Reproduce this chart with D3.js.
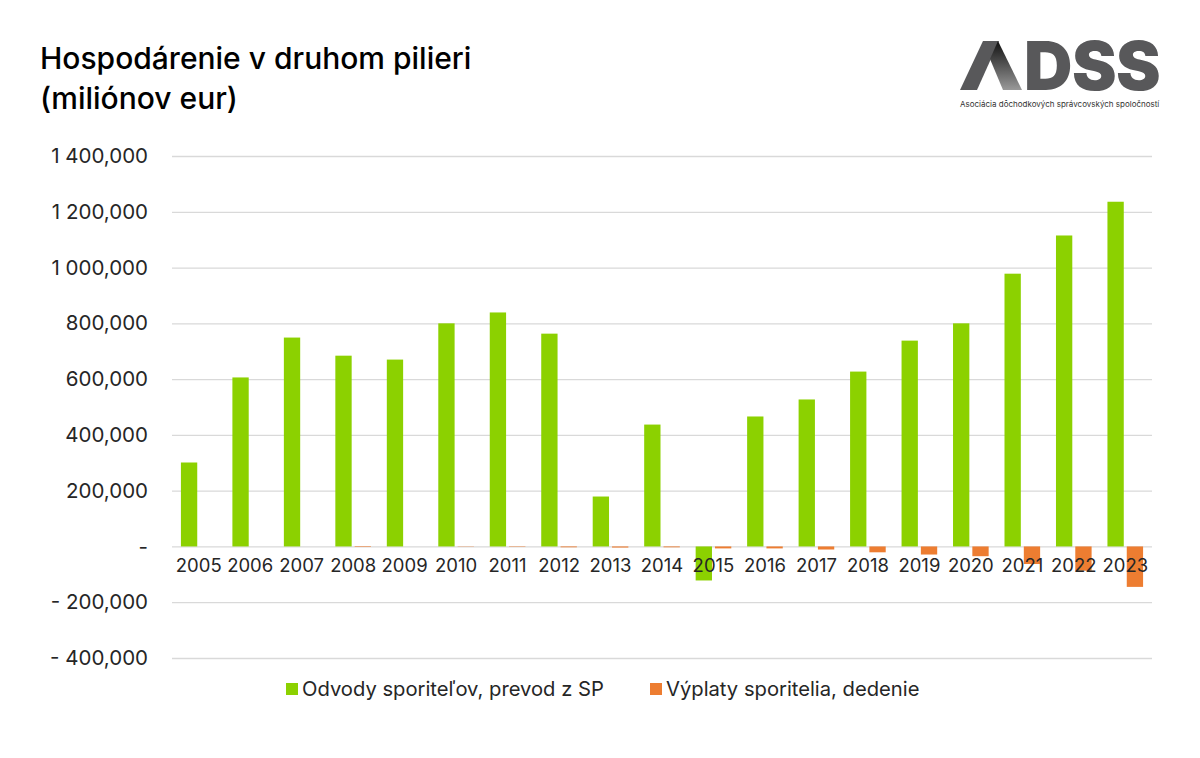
<!DOCTYPE html>
<html>
<head>
<meta charset="utf-8">
<script src="https://cdn.jsdelivr.net/npm/d3@7"></script>
<style>
  html, body { margin: 0; padding: 0; background: #fff; }
  text { font-family: "Inter", "Lato", sans-serif; }
</style>
</head>
<body>
<script>
'use strict';

// Data
var years = ["2005","2006","2007","2008","2009","2010","2011","2012","2013","2014","2015","2016","2017","2018","2019","2020","2021","2022","2023"];
var odvody = [301,606,749,684,670,800,839,763,179,437,-122,466,527,627,738,800,978,1115,1236];
var vyplaty = [0,0,0,-2,0,-1,-1.5,-3,-4,-3,-7,-7,-11,-21,-29,-35,-63,-87,-145];
var yTicks = [1400,1200,1000,800,600,400,200,0,-200,-400];
var seriesNames = ["Odvody sporiteľov, prevod z SP","Výplaty sporitelia, dedenie"];
var seriesColors = ["#8cd100","#ed7d31"];

var width = 1200, height = 758;
var left = 172, right = 1152, top0 = 156, bottom = 658;

var svg = d3.select("body").append("svg")
    .attr("width", width)
    .attr("height", height)
    .style("display", "block");

var x = d3.scaleBand().domain(years).range([left + 1, right - 1]);
var xInner = d3.scaleBand().domain([0, 1]).range([0, x.bandwidth()]).paddingInner(0.155).paddingOuter(0.41);
var y = d3.scaleLinear().domain([-400, 1400]).range([bottom, top0]);

function tickText(d) {
  if (d === 0) return "-";
  var a = Math.abs(d);
  var s = a >= 1000 ? Math.floor(a / 1000) + " " + d3.format("03d")(a % 1000) : String(a);
  return (d < 0 ? "- " : "") + s + ",000";
}

// Grid and y axis
var yAxis = svg.append("g")
    .attr("transform", "translate(" + left + ",0)")
    .call(d3.axisLeft(y).tickValues(yTicks).tickFormat(tickText).tickSize(0).tickPadding(24));
yAxis.select(".domain").remove();
yAxis.selectAll("text").attr("fill", "#262626").style("font-size", "20.5px");
yAxis.selectAll("line")
    .attr("x2", right - left)
    .attr("stroke", "#d9d9d9")
    .attr("stroke-width", 1.3);

// Bars
var series = [odvody, vyplaty];
series.forEach(function(vals, i) {
  svg.append("g").selectAll("rect")
      .data(vals)
      .enter()
      .append("rect")
      .attr("x", function(d, j) { return x(years[j]) + xInner(i); })
      .attr("width", xInner.bandwidth())
      .attr("y", function(d) { return y(Math.max(d, 0)); })
      .attr("height", function(d) { return Math.abs(y(d) - y(0)); })
      .attr("fill", seriesColors[i]);
});

// Year labels sit just under the zero line, over the bars
var xAxis = svg.append("g")
    .attr("transform", "translate(0," + y(0) + ")")
    .call(d3.axisBottom(x).tickSize(0).tickPadding(12));
xAxis.select(".domain").remove();
xAxis.selectAll("text").attr("fill", "#262626").style("font-size", "18.5px");

// Title
var title = svg.append("g").attr("fill", "#000").style("font-size", "30px").style("font-weight", 500);
title.append("text").attr("x", 40).attr("y", 69).text("Hospodárenie v druhom pilieri");
title.append("text").attr("x", 40).attr("y", 109).text("(miliónov eur)");

// Legend
var legendX = [286, 650];
seriesNames.forEach(function(name, i) {
  svg.append("rect").attr("x", legendX[i]).attr("y", 683).attr("width", 12).attr("height", 12).attr("fill", seriesColors[i]);
  svg.append("text").attr("x", legendX[i] + 16).attr("y", 696)
      .attr("fill", "#262626").style("font-size", "20.2px").text(name);
});

// Logo
var defs = svg.append("defs");
var grad = defs.append("linearGradient").attr("id", "logoA").attr("x1", 0).attr("y1", 0).attr("x2", 0).attr("y2", 1);
grad.append("stop").attr("offset", 0).attr("stop-color", "#111");
grad.append("stop").attr("offset", 1).attr("stop-color", "#999");
svg.append("path").attr("d", "M960 90 L983 41 L999 41 L977 90 Z").attr("fill", "#58585a");
svg.append("path").attr("d", "M998 41 L1022 90 L1003 90 L990 59 Z").attr("fill", "url(#logoA)");
svg.append("text").attr("x", 1024).attr("y", 90)
    .attr("fill", "#58585a")
    .style("font-size", "67px").style("font-weight", 900).style("letter-spacing", "-0.5px")
    .text("DSS");
svg.append("text").attr("x", 960).attr("y", 107)
    .attr("fill", "#333").style("font-size", "8px")
    .text("Asociácia dôchodkových správcovských spoločností");
</script>
</body>
</html>
